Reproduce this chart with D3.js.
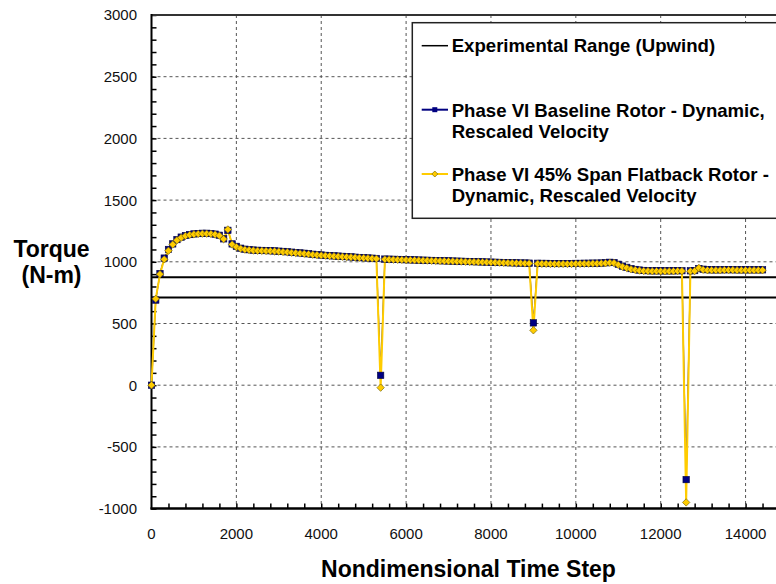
<!DOCTYPE html>
<html>
<head>
<meta charset="utf-8">
<script src="https://cdnjs.cloudflare.com/ajax/libs/d3/7.8.5/d3.min.js"></script>
<style>
  html, body { margin: 0; padding: 0; background: #fff; }
  svg { display: block; font-family: Arial, "Liberation Sans", sans-serif; }
</style>
</head>
<body>
<svg id="chart" width="776" height="584"></svg>
<script>
// Sample grid: one output every 100 nondimensional steps
const timeSteps = d3.range(0, 14500, 100);

const baselineTorque = [
  0, 690, 905, 1030, 1100, 1145, 1180, 1200, 1213, 1221,
  1226, 1229, 1231, 1231, 1229, 1224, 1215, 1186, 1255, 1145,
  1125, 1110, 1102, 1098, 1095, 1093, 1092, 1091, 1090, 1088,
  1086, 1084, 1081, 1078, 1075, 1072, 1069, 1065, 1061, 1058,
  1055, 1052, 1050, 1048, 1046, 1044, 1042, 1040, 1037, 1035,
  1033, 1031, 1029, 1027, 80, 1022, 1021, 1020, 1019, 1018,
  1017, 1016, 1015, 1014, 1013, 1012, 1011, 1010, 1009, 1008,
  1007, 1006, 1005, 1004, 1003, 1002, 1001, 1000, 999, 998,
  997, 996, 995, 994, 993, 992, 991, 990, 990, 989,
  505, 988, 987, 987, 986, 986, 986, 986, 986, 986,
  987, 987, 988, 988, 989, 989, 990, 992, 996, 994,
  980, 965, 955, 945, 938, 933, 930, 928, 927, 927,
  927, 927, 927, 927, 928, 928, -765, 927, 929, 945,
  940, 936, 935, 935, 935, 936, 936, 936, 935, 935,
  935, 935, 935, 935, 935
];

const flatbackTorque = [
  0, 700, 900, 1020, 1090, 1140, 1175, 1195, 1210, 1218,
  1223, 1226, 1228, 1228, 1226, 1221, 1212, 1184, 1262, 1140,
  1120, 1107, 1099, 1096, 1092, 1090, 1089, 1088, 1087, 1085,
  1083, 1080, 1078, 1074, 1071, 1068, 1065, 1062, 1058, 1055,
  1052, 1050, 1047, 1045, 1043, 1041, 1039, 1037, 1035, 1033,
  1031, 1029, 1027, 1025, -20, 1020, 1019, 1018, 1017, 1016,
  1015, 1014, 1013, 1012, 1011, 1010, 1009, 1008, 1007, 1006,
  1005, 1004, 1003, 1002, 1001, 1000, 999, 998, 997, 996,
  995, 994, 993, 992, 991, 990, 989, 988, 987, 987,
  445, 985, 984, 984, 983, 983, 983, 983, 983, 983,
  984, 984, 985, 985, 986, 986, 987, 988, 992, 990,
  975, 960, 950, 940, 934, 929, 926, 925, 924, 924,
  923, 923, 924, 924, 925, 925, -950, 923, 925, 950,
  935, 932, 932, 932, 932, 933, 933, 933, 932, 932,
  932, 932, 932, 932, 932
];

// Upwind experimental torque band (lower, upper)
const experimentalRange = [710, 875];

const xTickValues = [0, 2000, 4000, 6000, 8000, 10000, 12000, 14000];
const yTickValues = [-1000, -500, 0, 500, 1000, 1500, 2000, 2500, 3000];

const legendLabels = [
  ["Experimental Range (Upwind)"],
  ["Phase VI Baseline Rotor - Dynamic,", "Rescaled Velocity"],
  ["Phase VI 45% Span Flatback Rotor -", "Dynamic, Rescaled Velocity"]
];

const NAVY = "#000080";
const GOLD = "#ffcc00";

const svg = d3.select("#chart");
const W = 776;

const x = d3.scaleLinear().domain([0, 15000]).range([151.5, 788]);
const y = d3.scaleLinear().domain([-1000, 3000]).range([508.6, 15]);

// grid
const grid = svg.append("g").attr("class", "grid");
grid.selectAll(".vgrid")
  .data(xTickValues.filter(d => d > 0))
  .join("line")
  .attr("x1", d => x(d)).attr("x2", d => x(d))
  .attr("y1", y(3000)).attr("y2", y(-1000))
  .attr("stroke", "#555").attr("stroke-width", 1)
  .attr("stroke-dasharray", "3,3");
grid.selectAll(".hgrid")
  .data(yTickValues.filter(d => d > -1000 && d < 3000))
  .join("line")
  .attr("x1", x(0)).attr("x2", W)
  .attr("y1", d => y(d)).attr("y2", d => y(d))
  .attr("stroke", "#555").attr("stroke-width", 1)
  .attr("stroke-dasharray", "3,3");

// experimental range
svg.append("g")
  .selectAll("line")
  .data(experimentalRange)
  .join("line")
  .attr("x1", x(0)).attr("x2", W)
  .attr("y1", d => y(d)).attr("y2", d => y(d))
  .attr("stroke", "#000").attr("stroke-width", 2);

// minor ticks, pointing into the plot
const yAxis = d3.axisRight(y)
  .tickValues(d3.range(-1000, 3001, 100))
  .tickSize(5)
  .tickFormat("");
svg.append("g")
  .attr("transform", `translate(${x(0)},0)`)
  .call(yAxis)
  .call(g => g.select(".domain").remove())
  .call(g => g.selectAll("line").attr("stroke", "#000").attr("stroke-width", 1.5));

const xAxis = d3.axisTop(x)
  .tickValues(d3.range(400, 15001, 400))
  .tickSize(5)
  .tickFormat("");
svg.append("g")
  .attr("transform", `translate(0,${y(-1000)})`)
  .call(xAxis)
  .call(g => g.select(".domain").remove())
  .call(g => g.selectAll("line").attr("stroke", "#000").attr("stroke-width", 1.5));

// frame: top border, left axis, bottom axis
svg.append("line")
  .attr("x1", x(0)).attr("x2", W).attr("y1", y(3000)).attr("y2", y(3000))
  .attr("stroke", "#333").attr("stroke-width", 2);
svg.append("line")
  .attr("x1", x(0)).attr("x2", x(0)).attr("y1", y(3000) - 1).attr("y2", y(-1000) + 1)
  .attr("stroke", "#000").attr("stroke-width", 2);
svg.append("line")
  .attr("x1", x(0) - 1).attr("x2", W).attr("y1", y(-1000)).attr("y2", y(-1000))
  .attr("stroke", "#000").attr("stroke-width", 2.5);

// tick labels
svg.append("g")
  .selectAll("text")
  .data(yTickValues)
  .join("text")
  .attr("x", 137).attr("y", d => y(d))
  .attr("dy", "0.36em")
  .attr("text-anchor", "end")
  .attr("font-size", 15).attr("fill", "#111")
  .text(d => d);
svg.append("g")
  .selectAll("text")
  .data(xTickValues)
  .join("text")
  .attr("x", d => x(d)).attr("y", 538.7)
  .attr("text-anchor", "middle")
  .attr("font-size", 15).attr("fill", "#111")
  .text(d => d);

// axis titles
svg.append("text")
  .attr("x", 468.5).attr("y", 576.5)
  .attr("text-anchor", "middle")
  .attr("font-size", 23).attr("font-weight", "bold")
  .text("Nondimensional Time Step");
svg.append("text")
  .attr("x", 51.5).attr("y", 256.7)
  .attr("text-anchor", "middle")
  .attr("font-size", 23).attr("font-weight", "bold")
  .text("Torque");
svg.append("text")
  .attr("x", 51.5).attr("y", 283)
  .attr("text-anchor", "middle")
  .attr("font-size", 23).attr("font-weight", "bold")
  .text("(N-m)");

// series: all lines first, markers on top
const series = [
  { values: baselineTorque, color: NAVY, width: 1.2, marker: squareMarker },
  { values: flatbackTorque, color: GOLD, width: 2, marker: diamondMarker }
];
series.forEach(s => { s.pts = timeSteps.map((t, i) => [t, s.values[i]]); });

const line = d3.line().x(d => x(d[0])).y(d => y(d[1]));
const linesG = svg.append("g");
series.forEach(s => {
  linesG.append("path")
    .datum(s.pts)
    .attr("d", line)
    .attr("fill", "none")
    .attr("stroke", s.color)
    .attr("stroke-width", s.width)
    .attr("stroke-linejoin", "round");
});
series.forEach(s => {
  const m = svg.append("g").selectAll("g")
    .data(s.pts)
    .join("g")
    .attr("transform", d => `translate(${x(d[0])},${y(d[1])})`);
  s.marker(m);
});

function squareMarker(sel) {
  sel.append("rect")
    .attr("x", -3.2).attr("y", -3.2).attr("width", 6.4).attr("height", 6.4)
    .attr("fill", NAVY).attr("stroke", "#000040").attr("stroke-width", 0.6);
}

function diamondMarker(sel) {
  sel.append("path")
    .attr("d", "M0,-3.7L3.7,0L0,3.7L-3.7,0Z")
    .attr("fill", GOLD).attr("stroke", "#7a6a10").attr("stroke-width", 0.7);
}

// legend
const legend = svg.append("g").attr("class", "legend");
legend.append("rect")
  .attr("x", 412.3).attr("y", 22.7)
  .attr("width", 380).attr("height", 195.6)
  .attr("fill", "#fff").attr("stroke", "#222").attr("stroke-width", 1.5);

const legendRows = [45.7, 109.7, 174];
const legendBaselines = [[51.7], [116.7, 137.5], [180.5, 201.7]];
const legendColors = ["#000", NAVY, GOLD];

legendLabels.forEach((lines, i) => {
  const row = legend.append("g");
  row.append("line")
    .attr("x1", 421.7).attr("x2", 448)
    .attr("y1", legendRows[i]).attr("y2", legendRows[i])
    .attr("stroke", legendColors[i]).attr("stroke-width", i === 0 ? 1.5 : 2);
  const mk = row.append("g").attr("transform", `translate(434.8,${legendRows[i]})`);
  if (i === 1) {
    mk.append("rect")
      .attr("x", -2.5).attr("y", -2.5).attr("width", 5).attr("height", 5)
      .attr("fill", NAVY);
  } else if (i === 2) {
    mk.append("path")
      .attr("d", "M0,-3L3,0L0,3L-3,0Z")
      .attr("fill", GOLD).attr("stroke", "#7a6a10").attr("stroke-width", 0.7);
  }
  lines.forEach((txt, j) => {
    row.append("text")
      .attr("x", 451.7).attr("y", legendBaselines[i][j])
      .attr("font-size", 18.6).attr("font-weight", "bold")
      .attr("fill", "#000")
      .text(txt);
  });
});
</script>
</body>
</html>
